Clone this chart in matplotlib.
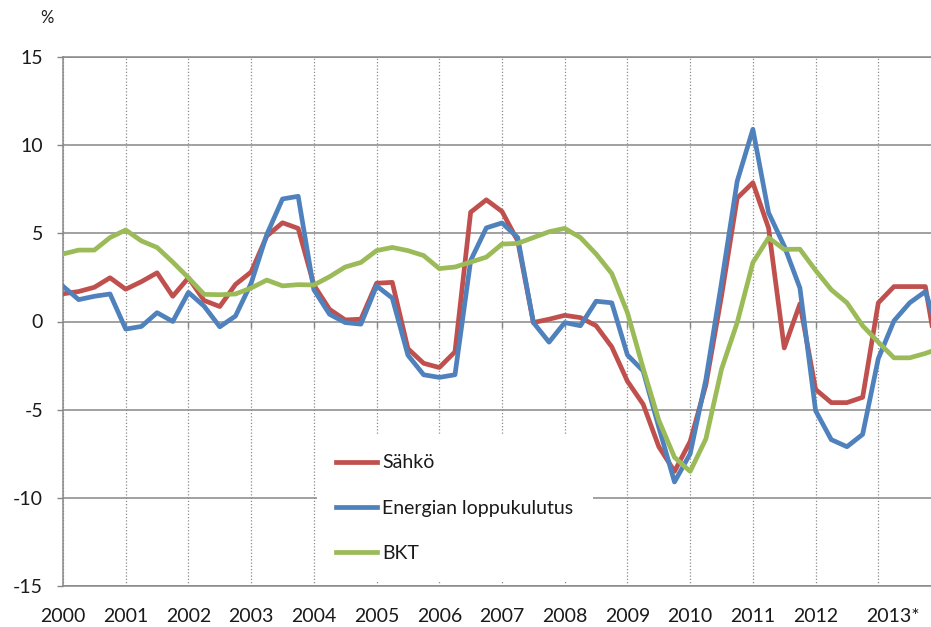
import numpy as np
import matplotlib.pyplot as plt
from matplotlib import transforms

plt.rcParams['font.family'] = ['Lato', 'DejaVu Sans']
plt.rcParams['axes.unicode_minus'] = False

# quarterly change, %, 2000Q1 ... 2013Q4 (+ first point of next quarter, cut at the edge)
sahko = [1.57, 1.7, 1.94, 2.48, 1.83, 2.26, 2.76, 1.43, 2.48, 1.19,
	0.85, 2.1, 2.81, 4.85, 5.6, 5.28, 2.07, 0.69, 0.09, 0.13,
	2.17, 2.22, -1.54, -2.37, -2.61, -1.72, 6.2, 6.9, 6.24, 4.57,
	-0.06, 0.13, 0.35, 0.22, -0.24, -1.44, -3.39, -4.69, -7.1, -8.5,
	-6.8, -3.6, 1.45, 7.0, 7.87, 5.3, -1.5, 1.0, -3.85, -4.6,
	-4.6, -4.3, 1.06, 1.98, 1.98, 1.98, -3.2]
energia = [2.0, 1.24, 1.43, 1.56, -0.43, -0.28, 0.5, 0.0, 1.65, 0.87,
	-0.3, 0.31, 2.17, 4.94, 6.95, 7.1, 1.8, 0.41, -0.06, -0.15,
	2.02, 1.33, -1.91, -3.02, -3.17, -3.02, 3.46, 5.31, 5.59, 4.76,
	-0.06, -1.17, -0.06, -0.24, 1.15, 1.06, -1.9, -2.8, -6.0, -9.1,
	-7.5, -3.3, 2.2, 7.96, 10.9, 6.17, 4.28, 1.9, -5.06, -6.7,
	-7.1, -6.4, -2.1, 0.04, 1.06, 1.7, -1.0]
bkt = [3.83, 4.05, 4.05, 4.76, 5.19, 4.57, 4.2, 3.37, 2.48, 1.54,
	1.52, 1.56, 1.9, 2.35, 2.02, 2.09, 2.07, 2.54, 3.09, 3.35,
	4.02, 4.2, 4.02, 3.74, 3.0, 3.09, 3.37, 3.65, 4.39, 4.43,
	4.76, 5.09, 5.28, 4.76, 3.83, 2.72, 0.5, -2.65, -5.6, -7.7,
	-8.5, -6.66, -2.7, -0.06, 3.34, 4.75, 4.09, 4.1, 2.9, 1.8,
	1.06, -0.24, -1.17, -2.06, -2.06, -1.81, -1.5]
years = ['2000', '2001', '2002', '2003', '2004', '2005', '2006',
	'2007', '2008', '2009', '2010', '2011', '2012', '2013*']

grid_col = '#878787'
text_col = '#1a1a1a'

quarters = np.arange(len(sahko))
year_pos = np.arange(len(years)) * 4

fig = plt.figure(figsize=(9.31, 6.27), dpi=100)
ax = fig.add_axes([63 / 931, 1 - 586 / 627, 868 / 931, 529 / 627])

ax.plot(quarters, sahko, color='#C0504D', lw=3.4, label='Sähkö', zorder=3)
ax.plot(quarters, energia, color='#4F81BD', lw=3.4, label='Energian loppukulutus', zorder=3)
ax.plot(quarters, bkt, color='#9BBB59', lw=3.4, label='BKT', zorder=3)

ax.set_xlim(0, 55.36)
ax.set_ylim(-15, 15)

ax.set_yticks(np.arange(-15, 16, 5))
ax.set_xticks(year_pos)
ax.set_xticklabels(years)

ax.yaxis.grid(True, color=grid_col, lw=1.1)
ax.xaxis.grid(True, color='#8c8c8c', lw=0.9, ls=(0, (1, 1.6)))
ax.set_axisbelow(True)

# small year marks on the zero line
ax.vlines(year_pos[1:], -0.35, 0, color=grid_col, lw=1, zorder=1)

for s in ['left', 'top', 'bottom']:
	ax.spines[s].set_color(grid_col)
	ax.spines[s].set_linewidth(1.1)
ax.spines['right'].set_visible(False)

ax.tick_params(axis='y', length=4.3, width=1, color=grid_col, pad=10,
	labelsize=14, labelcolor=text_col)
ax.tick_params(axis='x', length=0, pad=16, labelsize=14, labelcolor=text_col)

lbl = ax.get_xticklabels()[-1]
lbl.set_transform(lbl.get_transform() + transforms.ScaledTranslation(0.15, 0, fig.dpi_scale_trans))

ax.legend(loc='upper left', bbox_to_anchor=(0.2926, 0.2854), borderaxespad=0,
	frameon=True, fancybox=False, edgecolor='none', facecolor='white', framealpha=1,
	fontsize=14, labelspacing=1.45, handlelength=2.1, handletextpad=0.25,
	borderpad=1.0, labelcolor=text_col)

fig.text(47 / 931, 1 - 18 / 627, '%', ha='center', va='center', fontsize=12, color=text_col)

fig.savefig('out.png', dpi=100)
